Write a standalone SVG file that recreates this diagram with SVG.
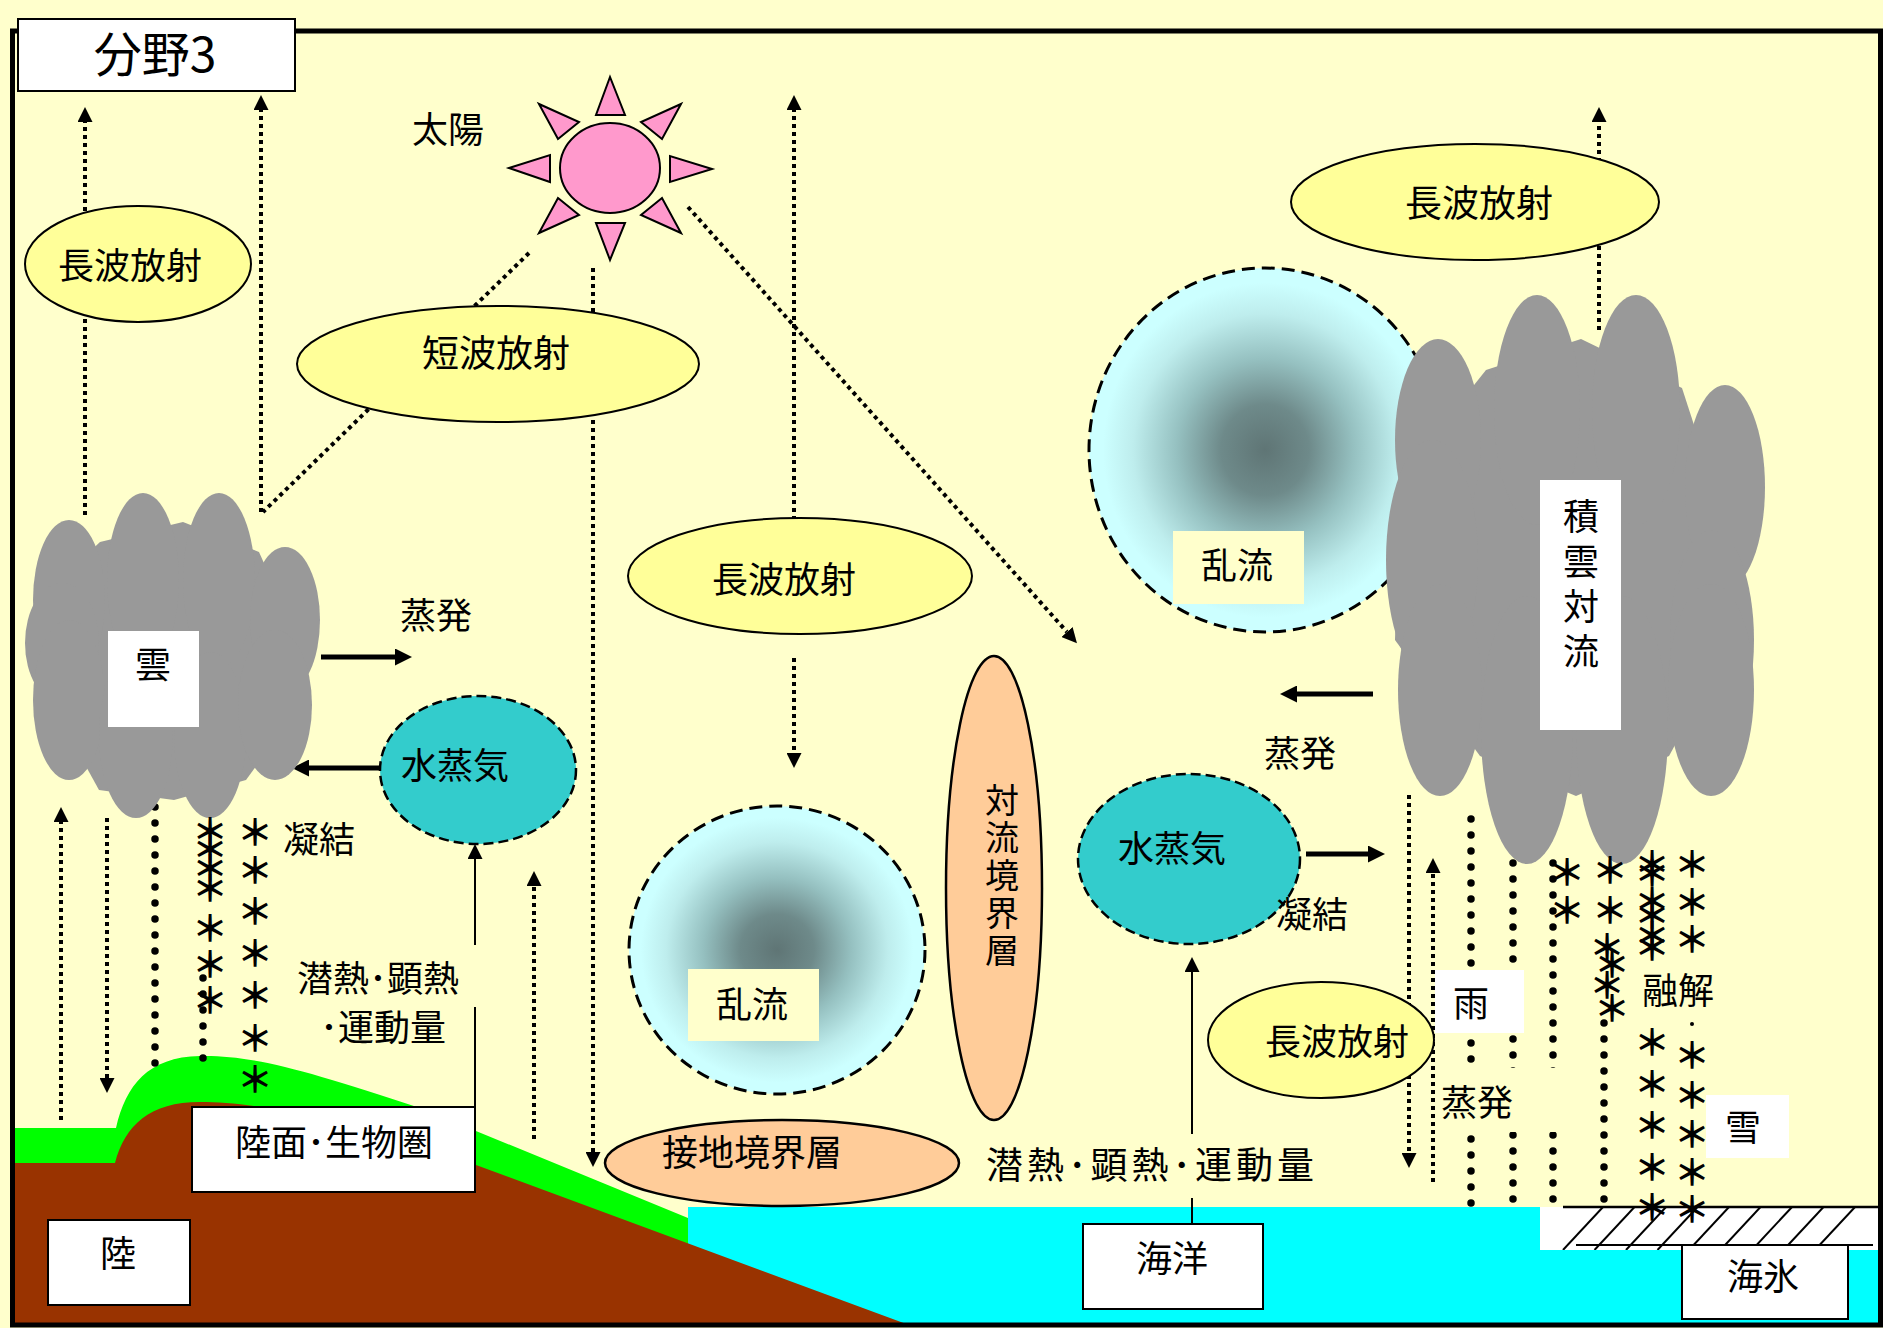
<svg xmlns="http://www.w3.org/2000/svg" width="1883" height="1328" viewBox="0 0 1883 1328">
<defs>
<style>
text{font-family:"Noto Sans CJK JP","Noto Sans CJK SC",sans-serif;fill:#000}
.lbl{font-size:36px;text-anchor:middle}
.big{font-size:48px;text-anchor:middle}
.vt{font-size:34px;text-anchor:middle}
.sn{font-size:36px;font-weight:bold;text-anchor:middle;dominant-baseline:central}
.oval{fill:#FFFF99;stroke:#000;stroke-width:2}
.orange{fill:#FFCC99;stroke:#000;stroke-width:2.5}
.vapor{fill:#33CCCC;stroke:#000;stroke-width:2.5;stroke-dasharray:10 5}
.turb{fill:url(#turbGrad);stroke:#000;stroke-width:3;stroke-dasharray:13 7}
.box{fill:#fff;stroke:#000;stroke-width:2}
.wbox{fill:#fff}
.ybox{fill:#FFFFCC}
.cloud{fill:#999}
.sun{fill:#FF99CC;stroke:#000;stroke-width:2}
.dot{fill:none;stroke:#000;stroke-width:4;stroke-dasharray:4 4}
.rain{fill:none;stroke:#000;stroke-width:7.5;stroke-linecap:round;stroke-dasharray:0 16}
.thick{stroke:#000;stroke-width:5}
.thin{stroke:#000;stroke-width:2}
.hatch{stroke:#000;stroke-width:2}
</style>
<radialGradient id="turbGrad" cx="50%" cy="50%" r="50%">
<stop offset="0" stop-color="#5F7575"/>
<stop offset="0.25" stop-color="#6E8A8A"/>
<stop offset="0.5" stop-color="#95C0C0"/>
<stop offset="0.75" stop-color="#BEEDED"/>
<stop offset="0.92" stop-color="#CCFFFF"/>
</radialGradient>
<marker id="ah" markerUnits="userSpaceOnUse" viewBox="0 0 10 10" refX="0" refY="5" markerWidth="15" markerHeight="15" orient="auto">
<path d="M0,0 L10,5 L0,10 Z" fill="#000"/>
</marker>
<marker id="ahBig" markerUnits="userSpaceOnUse" viewBox="0 0 10 10" refX="0" refY="5" markerWidth="17" markerHeight="17" orient="auto">
<path d="M0,0 L10,5 L0,10 Z" fill="#000"/>
</marker>
<clipPath id="iceClip"><rect x="1540" y="1207" width="341" height="43"/></clipPath>
</defs>

<rect x="0" y="0" width="1883" height="1328" fill="#FFFFCC"/>

<!-- land, ocean and sea ice -->
<g id="land-green">
<path d="M14,1128 H116 C126,1085 148,1057 200,1056 C250,1055 300,1068 420,1108 L688,1218 V1325 H14 Z" fill="#00FF00"/>
</g>
<g id="ocean-water">
<rect x="688" y="1207" width="1193" height="118" fill="#00FFFF"/>
</g>
<g id="land-soil">
<path d="M14,1163 H115 C125,1125 150,1102 200,1102 C250,1102 300,1110 476,1165 L909,1325 H14 Z" fill="#993300"/>
</g>
<g id="sea-ice">
<rect x="1540" y="1207" width="341" height="43" fill="#fff"/>
<g clip-path="url(#iceClip)">
<line class="hatch" x1="1563" y1="1250" x2="1603" y2="1207"/>
<line class="hatch" x1="1594.5" y1="1250" x2="1634.5" y2="1207"/>
<line class="hatch" x1="1626" y1="1250" x2="1666" y2="1207"/>
<line class="hatch" x1="1657.5" y1="1250" x2="1697.5" y2="1207"/>
<line class="hatch" x1="1689" y1="1250" x2="1729" y2="1207"/>
<line class="hatch" x1="1720.5" y1="1250" x2="1760.5" y2="1207"/>
<line class="hatch" x1="1752" y1="1250" x2="1792" y2="1207"/>
<line class="hatch" x1="1783.5" y1="1250" x2="1823.5" y2="1207"/>
<line class="hatch" x1="1815" y1="1250" x2="1855" y2="1207"/>
</g>
<line x1="1563" y1="1207" x2="1881" y2="1207" stroke="#000" stroke-width="2.5"/>
<line x1="1576" y1="1245" x2="1873" y2="1245" stroke="#000" stroke-width="2"/>
</g>

<!-- outer frame -->
<rect x="12.5" y="31" width="1868" height="1294" fill="none" stroke="#000" stroke-width="5"/>

<!-- radiation paths, fluxes and precipitation -->
<g id="connectors">
<!-- longwave upward from land cloud -->
<line class="dot" x1="85" y1="515" x2="85" y2="122" marker-end="url(#ah)"/>
<line class="dot" x1="261" y1="512" x2="261" y2="110" marker-end="url(#ah)"/>
<!-- shortwave from the sun -->
<line class="dot" x1="529" y1="253" x2="263" y2="512"/>
<line class="dot" x1="593" y1="268" x2="593" y2="1152" marker-end="url(#ah)"/>
<line class="dot" x1="688" y1="207" x2="1067" y2="632" marker-end="url(#ah)"/>
<!-- longwave, middle -->
<line class="dot" x1="794" y1="560" x2="794" y2="110" marker-end="url(#ah)"/>
<line class="dot" x1="794" y1="658" x2="794" y2="753" marker-end="url(#ah)"/>
<!-- longwave from cumulonimbus -->
<line class="dot" x1="1599" y1="330" x2="1599" y2="122" marker-end="url(#ah)"/>
<!-- land side fluxes -->
<line class="dot" x1="61" y1="1120" x2="61" y2="822" marker-end="url(#ah)"/>
<line class="dot" x1="107" y1="818" x2="107" y2="1078" marker-end="url(#ah)"/>
<line class="dot" x1="534" y1="1139" x2="534" y2="886" marker-end="url(#ah)"/>
<line class="thin" x1="475" y1="1107" x2="475" y2="859" marker-end="url(#ah)"/>
<line class="rain" x1="155" y1="807" x2="155" y2="1064"/>
<line class="rain" x1="203" y1="978" x2="203" y2="1059"/>
<!-- evaporation / condensation arrows -->
<line class="thick" x1="321" y1="657" x2="395" y2="657" marker-end="url(#ahBig)"/>
<line class="thick" x1="382" y1="768" x2="309" y2="768" marker-end="url(#ahBig)"/>
<line class="thick" x1="1373" y1="694" x2="1297" y2="694" marker-end="url(#ahBig)"/>
<line class="thick" x1="1306" y1="854" x2="1368" y2="854" marker-end="url(#ahBig)"/>
<!-- ocean side fluxes -->
<line class="thin" x1="1192" y1="1224" x2="1192" y2="972" marker-end="url(#ah)"/>
<line class="dot" x1="1409" y1="795" x2="1409" y2="1153" marker-end="url(#ah)"/>
<line class="dot" x1="1433" y1="1182" x2="1433" y2="873" marker-end="url(#ah)"/>
<line class="rain" x1="1471" y1="819" x2="1471" y2="1204"/>
<line class="rain" x1="1513" y1="863" x2="1513" y2="1200"/>
<line class="rain" x1="1553" y1="863" x2="1553" y2="1200"/>
<line class="rain" x1="1604" y1="1023" x2="1604" y2="1214"/>
<circle cx="1692" cy="1024" r="2" fill="#000"/>
</g>

<!-- label backgrounds that mask the flux lines -->
<g id="flux-label-land-bg"><rect class="ybox" x="288" y="945" width="194" height="62"/></g>
<g id="flux-label-ocean-bg"><rect class="ybox" x="1000" y="1134" width="305" height="64"/></g>
<g id="evap-label-bg"><rect class="ybox" x="1436" y="1068" width="130" height="64"/></g>

<g id="sun">
<ellipse class="sun" cx="610" cy="168" rx="50" ry="45"/>
<polygon class="sun" points="610,77 596,115 625,115"/>
<polygon class="sun" points="610,260 596,223 625,223"/>
<polygon class="sun" points="509,168 550,155 550,182"/>
<polygon class="sun" points="712,169 670,156 670,182"/>
<polygon class="sun" points="539,104 558,139 579,122"/>
<polygon class="sun" points="539,233 558,198 579,215"/>
<polygon class="sun" points="681,104 662,139 641,122"/>
<polygon class="sun" points="681,233 662,198 641,215"/>
</g>

<g id="longwave-left">
<ellipse class="oval" cx="138" cy="264" rx="113" ry="58"/>
<text class="lbl" x="130" y="279">長波放射</text>
</g>
<g id="shortwave">
<ellipse class="oval" cx="498" cy="364" rx="201" ry="58"/>
<text class="lbl" x="496" y="367" style="font-size:37px">短波放射</text>
</g>
<g id="longwave-middle">
<ellipse class="oval" cx="800" cy="576" rx="172" ry="58"/>
<text class="lbl" x="784" y="593">長波放射</text>
</g>
<g id="longwave-top-right">
<ellipse class="oval" cx="1475" cy="202" rx="184" ry="58"/>
<text class="lbl" x="1479" y="217" style="font-size:37px">長波放射</text>
</g>

<g id="turbulence-upper">
<ellipse class="turb" cx="1265" cy="450" rx="176" ry="182"/>
</g>

<g id="cloud-land">
<polygon class="cloud" points="38,600 100,542 183,522 259,552 305,655 304,700 246,780 174,800 99,790 40,683"/>
<ellipse class="cloud" cx="69" cy="600" rx="36" ry="80"/>
<ellipse class="cloud" cx="143" cy="580" rx="36" ry="87"/>
<ellipse class="cloud" cx="219" cy="580" rx="36" ry="87"/>
<ellipse class="cloud" cx="285" cy="620" rx="35" ry="73"/>
<ellipse class="cloud" cx="62" cy="643" rx="37" ry="60"/>
<ellipse class="cloud" cx="69" cy="700" rx="36" ry="80"/>
<ellipse class="cloud" cx="136" cy="735" rx="37" ry="83"/>
<ellipse class="cloud" cx="210" cy="735" rx="36" ry="83"/>
<ellipse class="cloud" cx="275" cy="705" rx="37" ry="75"/>
<rect class="wbox" x="108" y="631" width="91" height="96"/>
<text class="lbl" x="153" y="678">雲</text>
</g>

<g id="cumulonimbus">
<polygon class="cloud" points="1400,478 1486,370 1581,339 1682,388 1743,576 1741,625 1669,756 1576,796 1480,756 1395,640"/>
<ellipse class="cloud" cx="1438" cy="440" rx="43" ry="101"/>
<ellipse class="cloud" cx="1537" cy="410" rx="43" ry="115"/>
<ellipse class="cloud" cx="1636" cy="410" rx="44" ry="115"/>
<ellipse class="cloud" cx="1725" cy="487" rx="40" ry="102"/>
<ellipse class="cloud" cx="1432" cy="560" rx="46" ry="120"/>
<ellipse class="cloud" cx="1712" cy="640" rx="42" ry="110"/>
<ellipse class="cloud" cx="1440" cy="690" rx="42" ry="106"/>
<ellipse class="cloud" cx="1527" cy="730" rx="46" ry="134"/>
<ellipse class="cloud" cx="1622" cy="730" rx="46" ry="134"/>
<ellipse class="cloud" cx="1711" cy="690" rx="43" ry="106"/>
<rect class="wbox" x="1540" y="480" width="81" height="250"/>
<text class="lbl" x="1581" y="530">積</text>
<text class="lbl" x="1581" y="575">雲</text>
<text class="lbl" x="1581" y="620">対</text>
<text class="lbl" x="1581" y="665">流</text>
</g>

<g id="turbulence-upper-label">
<rect class="ybox" x="1173" y="531" width="131" height="73"/>
<text class="lbl" x="1237" y="579">乱流</text>
</g>

<g id="vapor-land">
<ellipse class="vapor" cx="478" cy="770" rx="98" ry="74"/>
<text class="lbl" x="455" y="779">水蒸気</text>
</g>
<g id="vapor-ocean">
<ellipse class="vapor" cx="1189" cy="859" rx="111" ry="85"/>
<text class="lbl" x="1172" y="862">水蒸気</text>
</g>

<g id="turbulence-lower">
<ellipse class="turb" cx="777" cy="950" rx="148" ry="144"/>
<rect class="ybox" x="688" y="969" width="131" height="72"/>
<text class="lbl" x="752" y="1018">乱流</text>
</g>

<g id="convective-boundary-layer">
<ellipse class="orange" cx="994" cy="888" rx="48" ry="232"/>
<text class="vt" x="1002" y="813">対</text>
<text class="vt" x="1002" y="850">流</text>
<text class="vt" x="1002" y="888">境</text>
<text class="vt" x="1002" y="926">界</text>
<text class="vt" x="1002" y="963">層</text>
</g>

<g id="surface-boundary-layer">
<ellipse class="orange" cx="782" cy="1163" rx="177" ry="43"/>
<text class="lbl" x="752" y="1166">接地境界層</text>
</g>

<g id="longwave-lower-right">
<ellipse class="oval" cx="1321" cy="1040" rx="113" ry="58"/>
<text class="lbl" x="1337" y="1055">長波放射</text>
</g>

<g id="rain">
<rect class="wbox" x="1435" y="970" width="89" height="63"/>
<text class="lbl" x="1471" y="1017">雨</text>
</g>
<g id="snow">
<rect class="wbox" x="1706" y="1095" width="83" height="63"/>
<text class="lbl" x="1743" y="1141">雪</text>
</g>

<g id="land-surface-biosphere">
<rect class="box" x="192" y="1107" width="283" height="85"/>
<text class="lbl" x="334" y="1156">陸面･生物圏</text>
</g>
<g id="land">
<rect class="box" x="48" y="1220" width="142" height="85"/>
<text class="lbl" x="118" y="1267">陸</text>
</g>
<g id="ocean">
<rect class="box" x="1083" y="1224" width="180" height="85"/>
<text class="lbl" x="1172" y="1272">海洋</text>
</g>
<g id="sea-ice-label">
<rect class="box" x="1682" y="1245" width="166" height="74"/>
<text class="lbl" x="1763" y="1290">海氷</text>
</g>

<!-- falling snow -->
<g id="snowfall">
<text class="sn" x="210" y="829">＊</text>
<text class="sn" x="210" y="847">＊</text>
<text class="sn" x="210" y="866">＊</text>
<text class="sn" x="210" y="886">＊</text>
<text class="sn" x="210" y="926">＊</text>
<text class="sn" x="210" y="962">＊</text>
<text class="sn" x="210" y="998">＊</text>
<text class="sn" x="255" y="830">＊</text>
<text class="sn" x="255" y="868">＊</text>
<text class="sn" x="255" y="909">＊</text>
<text class="sn" x="255" y="951">＊</text>
<text class="sn" x="255" y="993">＊</text>
<text class="sn" x="255" y="1036">＊</text>
<text class="sn" x="255" y="1077">＊</text>
<text class="sn" x="1567" y="870">＊</text>
<text class="sn" x="1567" y="908">＊</text>
<text class="sn" x="1610" y="868">＊</text>
<text class="sn" x="1610" y="908">＊</text>
<text class="sn" x="1607" y="945">＊</text>
<text class="sn" x="1612" y="962">＊</text>
<text class="sn" x="1607" y="983">＊</text>
<text class="sn" x="1612" y="1006">＊</text>
<text class="sn" x="1652" y="862">＊</text>
<text class="sn" x="1652" y="871">＊</text>
<text class="sn" x="1652" y="899">＊</text>
<text class="sn" x="1652" y="913">＊</text>
<text class="sn" x="1652" y="933">＊</text>
<text class="sn" x="1652" y="945">＊</text>
<text class="sn" x="1652" y="1040">＊</text>
<text class="sn" x="1652" y="1082">＊</text>
<text class="sn" x="1652" y="1123">＊</text>
<text class="sn" x="1652" y="1165">＊</text>
<text class="sn" x="1652" y="1205">＊</text>
<text class="sn" x="1692" y="862">＊</text>
<text class="sn" x="1692" y="900">＊</text>
<text class="sn" x="1692" y="937">＊</text>
<text class="sn" x="1692" y="1053">＊</text>
<text class="sn" x="1692" y="1093">＊</text>
<text class="sn" x="1692" y="1132">＊</text>
<text class="sn" x="1692" y="1170">＊</text>
<text class="sn" x="1692" y="1207">＊</text>
</g>

<!-- process labels -->
<g id="labels">
<text class="lbl" x="448" y="143">太陽</text>
<text class="lbl" x="436" y="629">蒸発</text>
<text class="lbl" x="319" y="853">凝結</text>
<text class="lbl" x="378" y="992">潜熱･顕熱</text>
<text class="lbl" x="383" y="1041">･運動量</text>
<text class="lbl" x="1152" y="1179" style="font-size:37px;letter-spacing:4px">潜熱･顕熱･運動量</text>
<text class="lbl" x="1300" y="767">蒸発</text>
<text class="lbl" x="1312" y="928">凝結</text>
<text class="lbl" x="1477" y="1116">蒸発</text>
<text class="lbl" x="1678" y="1004">融解</text>
</g>

<g id="title">
<rect class="box" x="18" y="19" width="277" height="72"/>
<text class="big" x="155" y="72">分野3</text>
</g>
</svg>
